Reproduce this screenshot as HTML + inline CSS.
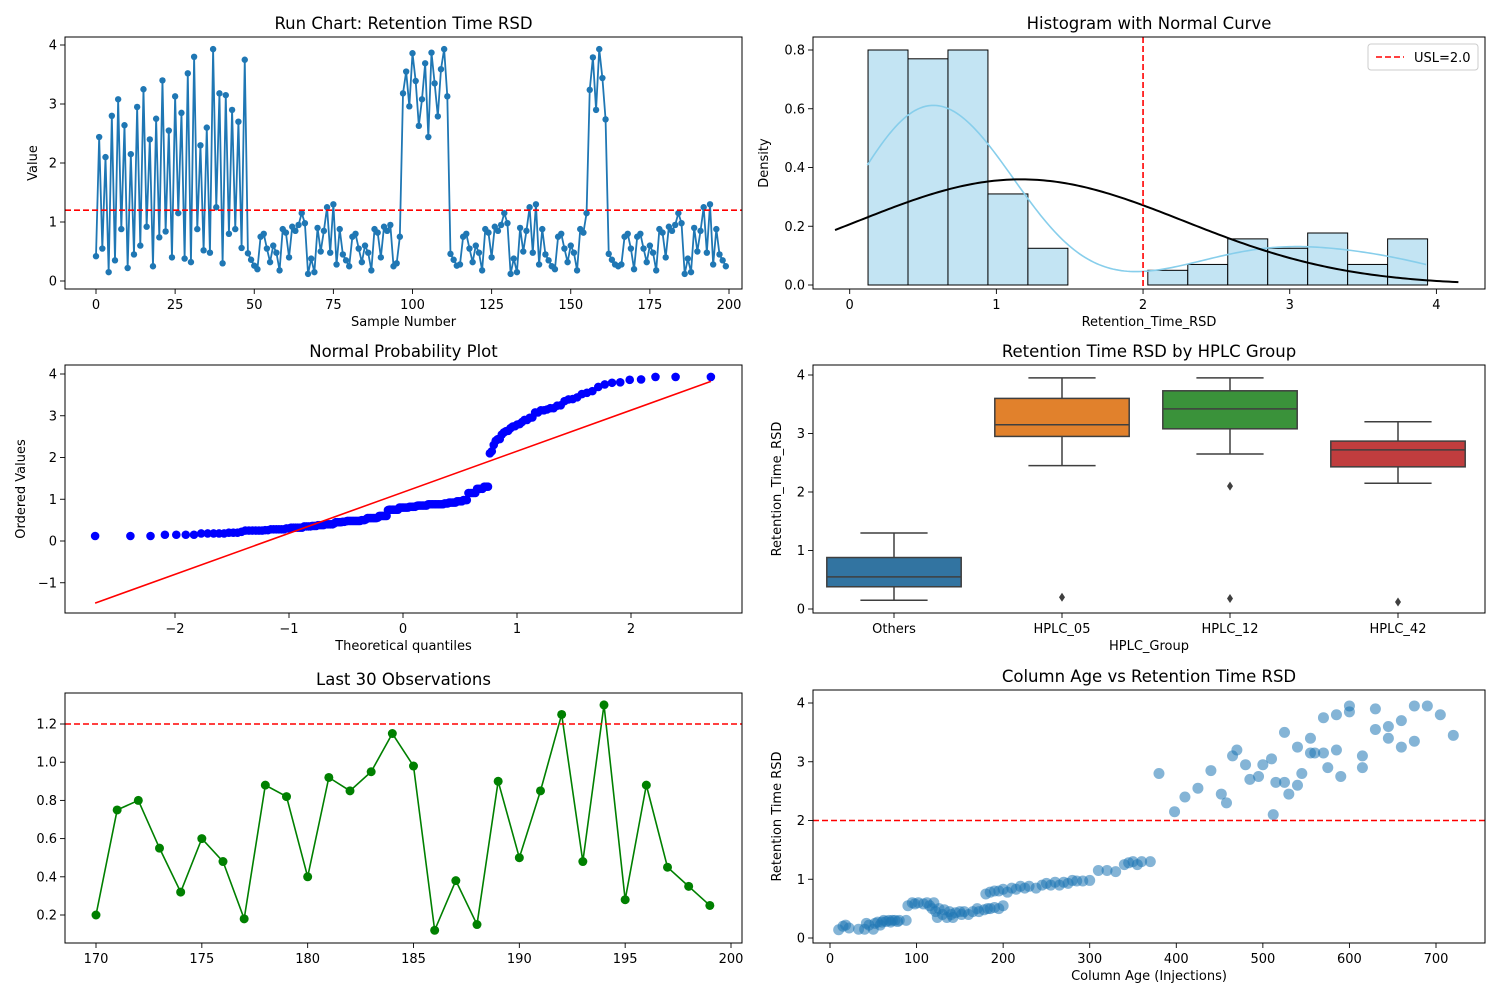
<!DOCTYPE html>
<html><head><meta charset="utf-8"><style>
html,body{margin:0;padding:0;background:#fff;}
svg{display:block;font-family:"DejaVu Sans","Liberation Sans",sans-serif;}
</style></head><body>
<svg id="fig" width="1500" height="1000" viewBox="0 0 1500 1000"></svg>
<script>
// ---------- DATA ----------
const runValues = [0.42,2.44,0.55,2.10,0.15,2.80,0.35,3.08,0.88,2.64,0.22,2.15,0.45,2.95,0.60,3.25,0.92,2.40,0.25,2.75,0.74,3.40,0.84,2.55,0.40,3.13,1.15,2.85,0.38,3.52,0.32,3.80,0.88,2.30,0.52,2.60,0.48,3.93,1.25,3.18,0.30,3.15,0.80,2.90,0.88,2.70,0.56,3.75,
0.47,0.36,0.26,
0.20,0.75,0.80,0.55,0.32,0.60,0.48,0.18,0.88,0.82,0.40,0.92,0.85,0.95,1.15,0.98,0.12,0.38,0.15,0.90,0.50,0.85,1.25,0.48,1.30,0.28,0.88,0.45,0.35,0.25,
0.75,0.80,0.55,0.32,0.60,0.48,0.18,0.88,0.82,0.40,0.92,0.85,0.95,0.25,0.30,
0.75,
3.18,3.55,2.96,3.86,3.39,2.63,3.08,3.69,2.44,3.87,3.35,2.79,3.59,3.93,3.13,
0.46,0.36,0.26,0.28,
0.75,0.80,0.55,0.32,0.60,0.48,0.18,0.88,0.82,0.40,0.92,0.85,0.95,1.15,0.98,0.12,0.38,0.15,0.90,0.50,0.85,1.25,0.48,1.30,0.28,0.88,0.45,0.35,0.25,
0.20,0.75,0.80,0.55,0.32,0.60,0.48,0.18,0.88,0.82,1.15,
3.24,3.79,2.90,3.93,3.44,2.74,
0.46,0.36,0.28,0.25,0.28,0.75,0.80,0.55,
0.20,0.75,0.80,0.55,0.32,0.60,0.48,0.18,0.88,0.82,0.40,0.92,0.85,0.95,1.15,0.98,0.12,0.38,0.15,0.90,0.50,0.85,1.25,0.48,1.30,0.28,0.88,0.45,0.35,0.25];
const runLimit = 1.2;
const usl = 2.0;

const histEdges = [0.125,0.3975,0.67,0.9425,1.215,1.4875,1.76,2.0325,2.305,2.5775,2.85,3.1225,3.395,3.6675,3.94];
const histDensity = [0.80,0.77,0.80,0.31,0.125,0,0,0.05,0.07,0.157,0.125,0.177,0.07,0.157];

const boxGroups = ["Others","HPLC_05","HPLC_12","HPLC_42"];
const boxQ1 = [0.38,2.95,3.08,2.43];
const boxMed = [0.55,3.15,3.42,2.72];
const boxQ3 = [0.88,3.60,3.73,2.87];
const boxLo = [0.15,2.45,2.65,2.15];
const boxHi = [1.30,3.95,3.95,3.20];
const boxOutGroup = [1,2,2,3];
const boxOutVal = [0.20,2.10,0.18,0.12];
const boxColors = ["#3274a1","#e1812c","#3a923a","#c03d3e"];

const last30X = [170,171,172,173,174,175,176,177,178,179,180,181,182,183,184,185,186,187,188,189,190,191,192,193,194,195,196,197,198,199];
const last30Y = [0.20,0.75,0.80,0.55,0.32,0.60,0.48,0.18,0.88,0.82,0.40,0.92,0.85,0.95,1.15,0.98,0.12,0.38,0.15,0.90,0.50,0.85,1.25,0.48,1.30,0.28,0.88,0.45,0.35,0.25];

const ageX = [10,15,18,22,33,40,42,45,50,52,55,58,60,62,65,68,70,72,75,78,80,88,90,95,98,102,108,112,115,118,120,122,124,126,130,132,135,138,140,142,145,150,152,155,160,165,170,172,178,182,185,190,195,200,180,185,190,195,200,205,210,215,220,225,230,238,245,250,255,260,265,270,275,280,285,292,300,310,320,330,340,345,350,355,360,370,
380,398,410,425,440,452,458,465,470,480,485,495,500,510,512,515,525,525,530,540,540,545,555,555,560,570,570,575,585,585,590,600,600,615,615,630,630,645,645,660,660,675,675,690,705,720];
const ageY = [0.14,0.20,0.22,0.17,0.15,0.15,0.25,0.22,0.15,0.25,0.27,0.22,0.27,0.30,0.28,0.30,0.27,0.30,0.30,0.28,0.30,0.30,0.55,0.60,0.58,0.60,0.58,0.60,0.55,0.50,0.60,0.45,0.35,0.50,0.40,0.48,0.35,0.45,0.40,0.35,0.43,0.45,0.40,0.45,0.40,0.45,0.50,0.45,0.48,0.50,0.50,0.52,0.50,0.55,0.75,0.78,0.80,0.80,0.83,0.78,0.85,0.83,0.88,0.85,0.88,0.85,0.90,0.93,0.90,0.95,0.90,0.95,0.93,0.98,0.97,0.97,0.98,1.15,1.15,1.13,1.25,1.28,1.30,1.25,1.30,1.30,
2.80,2.15,2.40,2.55,2.85,2.45,2.30,3.10,3.20,2.95,2.70,2.75,2.95,3.05,2.10,2.65,3.50,2.65,2.45,2.60,3.25,2.80,3.40,3.15,3.15,3.75,3.15,2.90,3.80,3.20,2.75,3.95,3.85,3.10,2.90,3.90,3.55,3.60,3.40,3.70,3.25,3.95,3.35,3.95,3.80,3.45];

const runXTicks = [0,25,50,75,100,125,150,175,200];
const runYTicks = [0,1,2,3,4];
const histXTicks = [0,1,2,3,4];
const histYTicks = [0,0.2,0.4,0.6,0.8];
const qqXTicks = [-2,-1,0,1,2];
const qqYTicks = [-1,0,1,2,3,4];
const boxYTicks = [0,1,2,3,4];
const l30XTicks = [170,175,180,185,190,195,200];
const l30YTicks = [0.2,0.4,0.6,0.8,1.0,1.2];
const scXTicks = [0,100,200,300,400,500,600,700];
const scYTicks = [0,1,2,3,4];

// ---------- HELPERS ----------
const NS = "http://www.w3.org/2000/svg";
const svg = document.getElementById("fig");
function mk(tag, attrs, parent) {
  const el = document.createElementNS(NS, tag);
  for (const k in attrs) el.setAttribute(k, attrs[k]);
  (parent || svg).appendChild(el);
  return el;
}
function lin(d0, d1, r0, r1) { return v => r0 + (v - d0) * (r1 - r0) / (d1 - d0); }
function fmt(v, dec) { return v < 0 ? "\u2212" + Math.abs(v).toFixed(dec) : v.toFixed(dec); }

function axes(name, box, sx, sy, xt, yt, xdec, ydec, title, xlabel, ylabel) {
  const g = mk("g", {});
  
  
  xt.forEach(t => {
    const x = sx(t);
    const tk = mk("line", {x1:x, x2:x, y1:box.y1, y2:box.y1+5, stroke:"#000", "stroke-width":0.9}, g);
    
    
    const tx = mk("text", {x:x, y:box.y1+20, "font-size":13, "text-anchor":"middle"}, g);
    
    
    tx.textContent = fmt(t, xdec);
  });
  yt.forEach(t => {
    const y = sy(t);
    const tk = mk("line", {x1:box.x0-5, x2:box.x0, y1:y, y2:y, stroke:"#000", "stroke-width":0.9}, g);
    
    
    const tx = mk("text", {x:box.x0-8, y:y+4.5, "font-size":13, "text-anchor":"end"}, g);
    
    
    tx.textContent = fmt(t, ydec);
  });
  const ti = mk("text", {x:(box.x0+box.x1)/2, y:box.y0-8, "font-size":16.5, "text-anchor":"middle"}, g);
  
  
  ti.textContent = title;
  if (xlabel) {
    const xl = mk("text", {x:(box.x0+box.x1)/2, y:box.y1+37, "font-size":13, "text-anchor":"middle"}, g);
    
    
    xl.textContent = xlabel;
  }
  if (ylabel) {
    const cx = box.ylx, cy = (box.y0+box.y1)/2;
    const yl = mk("text", {x:cx, y:cy, "font-size":13, "text-anchor":"middle", transform:`rotate(-90 ${cx} ${cy})`}, g);
    
    
    yl.textContent = ylabel;
  }
  return g;
}
function frame(box) {
  const r = mk("rect", {x:box.x0, y:box.y0, width:box.x1-box.x0, height:box.y1-box.y0, fill:"none", stroke:"#000", "stroke-width":1});
  
  
}

// ---------- 1. RUN CHART ----------
{
  const box = {x0:65, x1:742, y0:37, y1:289, ylx:37};
  const sx = lin(0, 200, 96, 729), sy = lin(0, 4, 281, 45);
  axes("run-chart", box, sx, sy, runXTicks, runYTicks, 0, 0, "Run Chart: Retention Time RSD", "Sample Number", "Value");
  const pl = mk("polyline", {points: runValues.map((v,i)=>sx(i)+","+sy(v)).join(" "), fill:"none", stroke:"#1f77b4", "stroke-width":1.8});
  
  
  runValues.forEach((v,i) => {
    const c = mk("circle", {cx:sx(i), cy:sy(v), r:3.2, fill:"#1f77b4"});
    
    
  });
  const ln = mk("line", {x1:box.x0, x2:box.x1, y1:sy(runLimit), y2:sy(runLimit), stroke:"red", "stroke-width":1.6, "stroke-dasharray":"6,3"});
  
  
  frame(box);
}

// ---------- 2. HISTOGRAM ----------
{
  const box = {x0:813, x1:1485, y0:37, y1:289, ylx:768};
  const sx = lin(0, 4, 849.7, 1436.4), sy = lin(0, 0.8, 285, 50);
  axes("histogram", box, sx, sy, histXTicks, histYTicks, 0, 1, "Histogram with Normal Curve", "Retention_Time_RSD", "Density");
  histDensity.forEach((d,i) => {
    if (d <= 0) return;
    const r = mk("rect", {x:sx(histEdges[i]), y:sy(d), width:sx(histEdges[i+1])-sx(histEdges[i]), height:sy(0)-sy(d), fill:"#c3e4f3", stroke:"#000", "stroke-width":1});
    
    
  });
  const n = runValues.length;
  const mean = runValues.reduce((a,b)=>a+b,0)/n;
  const sd = Math.sqrt(runValues.reduce((a,b)=>a+(b-mean)*(b-mean),0)/(n-1));
  const bw = sd * Math.pow(n, -0.2);
  const lo = Math.min(...runValues), hi = Math.max(...runValues);
  const kpts = [];
  for (let k=0;k<=200;k++){
    const x = lo + (hi-lo)*k/200;
    let s=0; runValues.forEach(v=>{const z=(x-v)/bw; s+=Math.exp(-0.5*z*z);});
    kpts.push(sx(x)+","+sy(s/(n*bw*Math.sqrt(2*Math.PI))));
  }
  const kde = mk("polyline", {points:kpts.join(" "), fill:"none", stroke:"#87ceeb", "stroke-width":1.6});
  
  
  const npts = [];
  for (let k=0;k<=200;k++){
    const x = -0.1 + 4.25*k/200;
    const z=(x-mean)/sd;
    npts.push(sx(x)+","+sy(Math.exp(-0.5*z*z)/(sd*Math.sqrt(2*Math.PI))));
  }
  const nc = mk("polyline", {points:npts.join(" "), fill:"none", stroke:"#000", "stroke-width":2});
  
  
  const ul = mk("line", {x1:sx(usl), x2:sx(usl), y1:box.y0, y2:box.y1, stroke:"red", "stroke-width":1.6, "stroke-dasharray":"6,3"});
  
  
  const lg = mk("g", {});
  
  
  mk("rect", {x:1368, y:44, width:110, height:26, rx:3, fill:"#fff", stroke:"#ccc", "stroke-width":1}, lg);
  const le = mk("line", {x1:1376, x2:1404, y1:57, y2:57, stroke:"red", "stroke-width":1.6, "stroke-dasharray":"6,3"}, lg);
  
  
  const lt = mk("text", {x:1414, y:62, "font-size":13}, lg);
  
  
  lt.textContent = "USL=2.0";
  frame(box);
}

// ---------- 3. QQ PLOT ----------
function normInv(p){
  const a=[-39.6968302866538,220.946098424521,-275.928510446969,138.357751867269,-30.6647980661472,2.50662827745924];
  const b=[-54.4760987982241,161.585836858041,-155.698979859887,66.8013118877197,-13.2806815528857];
  const c=[-0.00778489400243029,-0.322396458041136,-2.40075827716184,-2.54973253934373,4.37466414146497,2.93816398269878];
  const d=[0.00778469570904146,0.32246712907004,2.445134137143,3.75440866190742];
  let q,r;
  if(p<0.02425){q=Math.sqrt(-2*Math.log(p));return(((((c[0]*q+c[1])*q+c[2])*q+c[3])*q+c[4])*q+c[5])/((((d[0]*q+d[1])*q+d[2])*q+d[3])*q+1);}
  if(p>1-0.02425){q=Math.sqrt(-2*Math.log(1-p));return-(((((c[0]*q+c[1])*q+c[2])*q+c[3])*q+c[4])*q+c[5])/((((d[0]*q+d[1])*q+d[2])*q+d[3])*q+1);}
  q=p-0.5;r=q*q;return(((((a[0]*r+a[1])*r+a[2])*r+a[3])*r+a[4])*r+a[5])*q/(((((b[0]*r+b[1])*r+b[2])*r+b[3])*r+b[4])*r+1);
}
{
  const box = {x0:65, x1:742, y0:365, y1:613, ylx:25};
  const sx = lin(0, 1, 403, 517), sy = lin(0, 4, 541, 374);
  axes("qq-plot", box, sx, sy, qqXTicks, qqYTicks, 0, 0, "Normal Probability Plot", "Theoretical quantiles", "Ordered Values");
  const sorted = runValues.slice().sort((a,b)=>a-b);
  const n = sorted.length;
  const q = sorted.map((v,i)=>{
    let p;
    if (i===n-1) p = Math.pow(0.5, 1/n);
    else if (i===0) p = 1-Math.pow(0.5,1/n);
    else p = (i+1-0.3175)/(n+0.365);
    return normInv(p);
  });
  const mq = q.reduce((a,b)=>a+b,0)/n, mv = sorted.reduce((a,b)=>a+b,0)/n;
  let sxy=0,sxx=0; q.forEach((x,i)=>{sxy+=(x-mq)*(sorted[i]-mv); sxx+=(x-mq)*(x-mq);});
  const slope = sxy/sxx, icpt = mv - slope*mq;
  sorted.forEach((v,i)=>{
    const c = mk("circle", {cx:sx(q[i]), cy:sy(v), r:4.3, fill:"#0000ff"});
    
    
  });
  const fl = mk("line", {x1:sx(q[0]), y1:sy(icpt+slope*q[0]), x2:sx(q[n-1]), y2:sy(icpt+slope*q[n-1]), stroke:"red", "stroke-width":1.6});
  
  
  frame(box);
}

// ---------- 4. BOX PLOT ----------
{
  const box = {x0:813, x1:1485, y0:365, y1:613, ylx:781};
  const sy = lin(0, 4, 609, 375);
  const bandW = (box.x1-box.x0)/boxGroups.length;
  const cx = i => box.x0 + bandW*(i+0.5) - 3;
  const g = axes("box-plot", box, x=>x, sy, [], boxYTicks, 0, 0, "Retention Time RSD by HPLC Group", "HPLC_Group", "Retention_Time_RSD");
  boxGroups.forEach((name,i)=>{
    const x = cx(i);
    const tk = mk("line", {x1:x, x2:x, y1:box.y1, y2:box.y1+5, stroke:"#000", "stroke-width":0.9}, g);
    
    
    const tx = mk("text", {x:x, y:box.y1+20, "font-size":13, "text-anchor":"middle"}, g);
    
    
    tx.textContent = name;
    const w = bandW*0.8;
    const grp = mk("g", {});
    
    
    mk("line", {x1:x, x2:x, y1:sy(boxQ3[i]), y2:sy(boxHi[i]), stroke:"#3f3f3f", "stroke-width":1.5}, grp);
    mk("line", {x1:x, x2:x, y1:sy(boxQ1[i]), y2:sy(boxLo[i]), stroke:"#3f3f3f", "stroke-width":1.5}, grp);
    mk("line", {x1:x-w/4, x2:x+w/4, y1:sy(boxHi[i]), y2:sy(boxHi[i]), stroke:"#3f3f3f", "stroke-width":1.5}, grp);
    mk("line", {x1:x-w/4, x2:x+w/4, y1:sy(boxLo[i]), y2:sy(boxLo[i]), stroke:"#3f3f3f", "stroke-width":1.5}, grp);
    mk("rect", {x:x-w/2, y:sy(boxQ3[i]), width:w, height:sy(boxQ1[i])-sy(boxQ3[i]), fill:boxColors[i], stroke:"#3f3f3f", "stroke-width":1.5}, grp);
    mk("line", {x1:x-w/2, x2:x+w/2, y1:sy(boxMed[i]), y2:sy(boxMed[i]), stroke:"#3f3f3f", "stroke-width":1.5}, grp);
  });
  boxOutVal.forEach((v,k)=>{
    const x = cx(boxOutGroup[k]), y = sy(v);
    const o = mk("path", {d:`M${x} ${y-4.5} L${x+3} ${y} L${x} ${y+4.5} L${x-3} ${y} Z`, fill:"#3f3f3f"});
    
    
  });
  frame(box);
}

// ---------- 5. LAST 30 ----------
{
  const box = {x0:65, x1:742, y0:693, y1:943, ylx:25};
  const sx = lin(170, 200, 96, 731), sy = lin(0.2, 1.2, 915, 724);
  axes("last-30-chart", box, sx, sy, l30XTicks, l30YTicks, 0, 1, "Last 30 Observations", "", "");
  const pl = mk("polyline", {points:last30X.map((x,i)=>sx(x)+","+sy(last30Y[i])).join(" "), fill:"none", stroke:"green", "stroke-width":1.6});
  
  
  last30X.forEach((x,i)=>{
    const c = mk("circle", {cx:sx(x), cy:sy(last30Y[i]), r:4.5, fill:"green"});
    
    
  });
  const ln = mk("line", {x1:box.x0, x2:box.x1, y1:sy(runLimit), y2:sy(runLimit), stroke:"red", "stroke-width":1.6, "stroke-dasharray":"6,3"});
  
  
  frame(box);
}

// ---------- 6. SCATTER ----------
{
  const box = {x0:813, x1:1485, y0:690, y1:943, ylx:781};
  const sx = lin(0, 700, 830, 1436), sy = lin(0, 4, 938, 703);
  axes("scatter-plot", box, sx, sy, scXTicks, scYTicks, 0, 0, "Column Age vs Retention Time RSD", "Column Age (Injections)", "Retention Time RSD");
  ageX.forEach((x,i)=>{
    const c = mk("circle", {cx:sx(x), cy:sy(ageY[i]), r:5.5, fill:"#1f77b4", "fill-opacity":0.55});
    
    
  });
  const ln = mk("line", {x1:box.x0, x2:box.x1, y1:sy(usl), y2:sy(usl), stroke:"red", "stroke-width":1.6, "stroke-dasharray":"6,3"});
  
  
  frame(box);
}
</script>
</body></html>
